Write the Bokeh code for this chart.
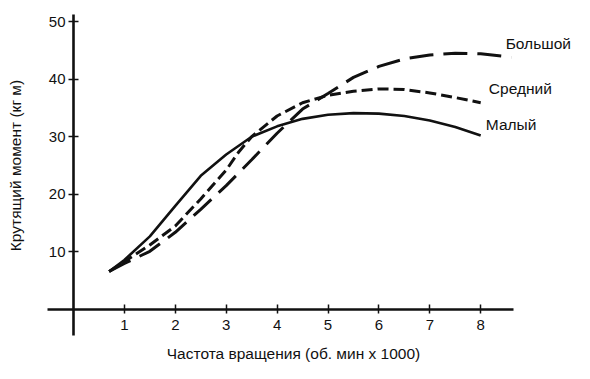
from bokeh.plotting import figure
from bokeh.models import Range1d, FixedTicker, Label
from bokeh.embed import file_html
from bokeh.resources import INLINE

# --- data ---
rpm_small = [0.7, 1.0, 1.5, 2.0, 2.5, 3.0, 3.5, 4.0, 4.5, 5.0, 5.5, 6.0, 6.5, 7.0, 7.5, 8.0]
small = [6.6, 8.6, 12.7, 18.0, 23.2, 26.9, 30.0, 31.8, 33.1, 33.8, 34.1, 34.0, 33.6, 32.8, 31.7, 30.2]
rpm_medium = [0.7, 1.0, 1.5, 2.0, 2.5, 3.0, 3.25, 3.5, 4.0, 4.5, 5.0, 5.5, 6.0, 6.5, 7.0, 7.5, 8.0]
medium = [6.6, 8.3, 11.2, 14.5, 19.2, 24.2, 27.4, 30.0, 33.6, 35.9, 37.2, 37.9, 38.3, 38.2, 37.6, 36.8, 35.9]
rpm_large = [0.7, 1.0, 1.5, 2.0, 2.5, 3.0, 3.5, 4.0, 4.5, 5.0, 5.5, 6.0, 6.5, 7.0, 7.5, 8.0, 8.6]
large = [6.6, 8.0, 10.1, 13.4, 17.4, 21.5, 26.0, 30.6, 34.8, 37.5, 40.3, 42.2, 43.5, 44.2, 44.5, 44.4, 43.8]
series_names = ["Большой", "Средний", "Малый"]
x_ticks = [1, 2, 3, 4, 5, 6, 7, 8]
y_ticks = [10, 20, 30, 40, 50]
x_title = "Частота вращения (об. мин х 1000)"
y_title = "Крутящий момент (кг м)"

FONT = "Liberation Sans"
INK = "#111111"

W, H = 574, 363
OFF = 0  # canvas offset on the page
# page px: x = 73 + 50.9*v ; y = 309 - 5.76*v
x0, x1 = (OFF - 73) / 50.9, (OFF + W - 73) / 50.9
y1, y0 = (309 - OFF) / 5.76, (309 - OFF - H) / 5.76

p = figure(width=W, height=H, output_backend="svg", toolbar_location=None,
           x_range=Range1d(x0, x1), y_range=Range1d(y0, y1),
           min_border=0, min_border_left=0, min_border_right=0,
           min_border_top=0, min_border_bottom=0)
p.outline_line_color = None
p.grid.visible = False
p.background_fill_color = "white"
p.border_fill_color = "white"

for ax in (p.xaxis[0], p.yaxis[0]):
    ax.fixed_location = 0
    ax.axis_line_width = 2.6
    ax.axis_line_color = INK
    ax.major_tick_line_width = 1.5
    ax.major_tick_line_color = INK
    ax.minor_tick_line_color = None
    ax.major_label_text_font = FONT
    ax.major_label_text_font_size = "15px"
    ax.major_label_text_color = INK

p.xaxis.ticker = FixedTicker(ticks=x_ticks)
p.yaxis.ticker = FixedTicker(ticks=y_ticks)
p.xaxis.bounds = (-0.51, 8.65)
p.yaxis.bounds = (-4.5, 51.2)
p.xaxis.major_tick_in = 5
p.xaxis.major_tick_out = 4
p.xaxis.major_label_standoff = 6
p.yaxis.major_tick_in = 5
p.yaxis.major_tick_out = 5
p.yaxis.major_label_standoff = 3

# curves
p.line(rpm_small, small, line_color=INK, line_width=2.6)
p.line(rpm_medium, medium, line_color=INK, line_width=3, line_dash="11 5")
p.line(rpm_large, large, line_color=INK, line_width=3, line_dash="24 10")

# series labels
label_x = [8.49, 8.16, 8.1]
label_y = [46.1, 38.3, 32.1]
for name, lx, ly in zip(series_names, label_x, label_y):
    p.add_layout(Label(x=lx, y=ly, text=name, text_font=FONT, text_font_size="15.5px",
                       text_color=INK, text_baseline="middle", text_align="left"))

# axis titles
p.add_layout(Label(x=293 - OFF, y=H - (353 - OFF), x_units="screen", y_units="screen",
                   text=x_title, text_font=FONT, text_font_size="15.5px", text_color=INK,
                   text_align="center", text_baseline="middle"))
p.add_layout(Label(x=15 - OFF, y=H - (165 - OFF), x_units="screen", y_units="screen",
                   text=y_title, text_font=FONT, text_font_size="15.5px", text_color=INK,
                   text_align="center", text_baseline="middle", angle=1.5708))

open("out.html", "w").write(file_html(p, INLINE))
